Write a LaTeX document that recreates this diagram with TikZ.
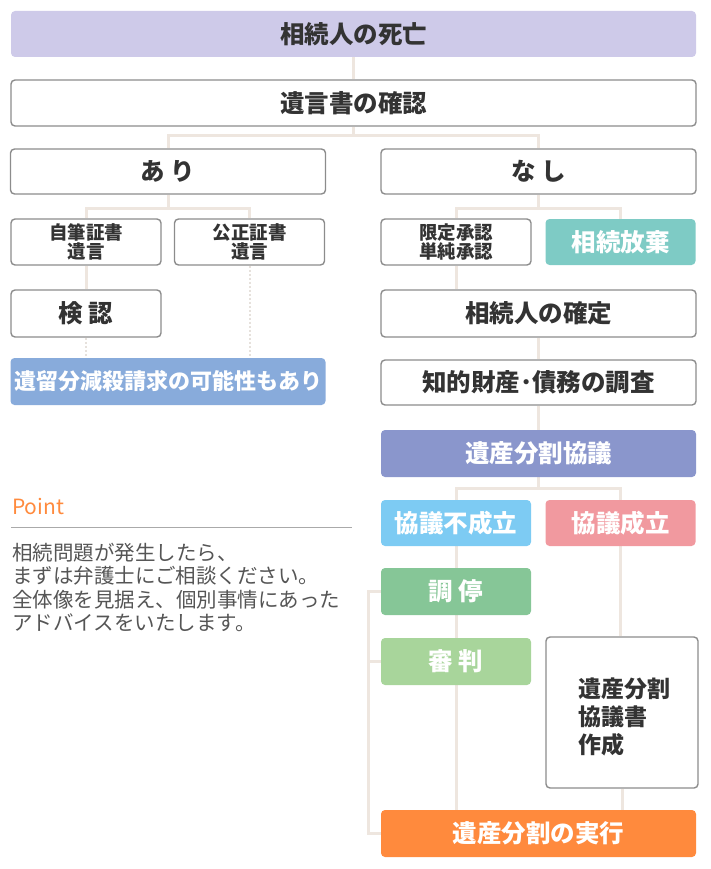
\documentclass[tikz,border=0pt]{standalone}
\usepackage{fontspec}
\setmainfont{Noto Sans CJK JP}
\usetikzlibrary{backgrounds}
\definecolor{bordergray}{HTML}{8C8C8C}
\definecolor{textdark}{HTML}{333333}
\definecolor{connc}{HTML}{EEE6DF}
\definecolor{dotc}{HTML}{E6E1DC}
\definecolor{clav}{HTML}{CECAE9}
\definecolor{cblue}{HTML}{88ABDB}
\definecolor{cteal}{HTML}{7ECBC5}
\definecolor{cviolet}{HTML}{8A96CC}
\definecolor{csky}{HTML}{7DCBF3}
\definecolor{cpink}{HTML}{F1999F}
\definecolor{cgreen}{HTML}{86C697}
\definecolor{clgreen}{HTML}{A8D59B}
\definecolor{corange}{HTML}{FF8A3D}
\definecolor{ptext}{HTML}{555555}
\definecolor{pline}{HTML}{AAAAAA}
\begin{document}
\begin{tikzpicture}[x=1pt,y=-1pt,
  base/.style={rounded corners=4pt, inner sep=0pt, align=center},
  bx/.style={base, draw=bordergray, line width=1.4pt, fill=white, text=textdark,
    font=\fontsize{24.5}{27}\selectfont\bfseries},
  sbx/.style={bx, font=\fontsize{18.5}{19.5}\selectfont\bfseries},
  cbx/.style={base, text=white, font=\fontsize{24.5}{27}\selectfont\bfseries},
  wide/.style={minimum width=315pt},
  full/.style={minimum width=685pt},
  half/.style={minimum width=150pt},
  tall/.style={minimum height=46pt},
  conn/.style={draw=connc, line width=3pt},
  dotconn/.style={draw=dotc, line width=2pt, dotted},
]
\useasboundingbox (0,0) rectangle (710,869);

% top
\node[cbx, full, tall, fill=clav, text=textdark] (death) at (353.5,34) {相続人の死亡};
\node[bx, full, tall] (will) at (353.5,103) {遺言書の確認};

% left branch
\node[bx, wide, minimum height=45pt] (ari) at (168,171.5) {あ り};
\node[sbx, half, tall] (jihitsu) at (86,242) {自筆証書\\遺言};
\node[sbx, half, tall] (kousei) at (249.5,242) {公正証書\\遺言};
\node[bx, half, minimum height=47pt] (kennin) at (86,313.5) {検 認};
\node[cbx, wide, minimum height=47pt, fill=cblue, font=\fontsize{22}{24}\selectfont\bfseries] (iryu) at (168,381.5) {遺留分減殺請求の可能性もあり};

% right branch
\node[bx, wide, minimum height=45pt] (nashi) at (538.5,171.5) {な し};
\node[sbx, half, tall] (gentei) at (456,242) {限定承認\\単純承認};
\node[cbx, half, tall, fill=cteal] (houki) at (620.5,242) {相続放棄};
\node[bx, wide, minimum height=47pt] (kakutei) at (538.5,313.5) {相続人の確定};
\node[bx, wide, minimum height=45pt] (chousa) at (538.5,382.5) {知的財産･債務の調査};
\node[cbx, wide, minimum height=47pt, fill=cviolet] (kyogi) at (538.5,453.5) {遺産分割協議};
\node[cbx, half, tall, fill=csky] (fusei) at (456,523) {協議不成立};
\node[cbx, half, tall, fill=cpink] (seiritsu) at (620.5,523) {協議成立};
\node[cbx, half, minimum height=47pt, fill=cgreen] (chotei) at (456,591.5) {調 停};
\node[cbx, half, minimum height=47pt, fill=clgreen] (shinpan) at (456,661.5) {審 判};
\node[bx, minimum width=152pt, minimum height=151pt] (kyogisho) at (622,712.5) {};
\node[inner sep=0pt, align=left, text=textdark, font=\fontsize{23}{28}\selectfont\bfseries] (kyogishotxt) at (624,717) {遺産分割\\協議書\\作成\hphantom{分割}};
\node[cbx, wide, minimum height=47pt, fill=corange] (jikkou) at (538.5,833.5) {遺産分割の実行};
\coordinate (brk) at (368,0);

% Point section
\node[anchor=base west, inner sep=0pt, text=corange, font=\fontsize{21}{24}\selectfont] (point) at (12,514) {Point};
\coordinate (pl1) at (11,527);
\coordinate (pl2) at (352,527);
\node[anchor=north west, inner sep=0pt, align=left, text=ptext, font=\fontsize{20.5}{23.3}\selectfont] (ptxt) at (12,543) {相続問題が発生したら、\\まずは弁護士にご相談ください。\\全体像を見据え、個別事情にあった\\アドバイスをいたします。};

\begin{scope}[on background layer]
  \draw[draw=pline, line width=1pt] (pl1) -- (pl2);
  \draw[conn] (death.south) -- (will.north);
  \draw[conn] (will.south) -- ++(0,9) coordinate (b1);
  \draw[conn] (ari.north) |- (b1) -| (nashi.north);
  \draw[conn] (ari.south) -- ++(0,14) coordinate (b2);
  \draw[conn] (jihitsu.north) |- (b2) -| (kousei.north);
  \draw[conn] (jihitsu.south) -- (kennin.north);
  \draw[dotconn] (kennin.south) -- (kennin.south |- iryu.north);
  \draw[dotconn] (kousei.south) -- (kousei.south |- iryu.north);
  \draw[conn] (nashi.south) -- ++(0,14) coordinate (b3);
  \draw[conn] (gentei.north) |- (b3) -| (houki.north);
  \draw[conn] (gentei.south) -- (gentei.south |- kakutei.north);
  \draw[conn] (kakutei.south) -- (chousa.north);
  \draw[conn] (chousa.south) -- (kyogi.north);
  \draw[conn] (kyogi.south) -- ++(0,11) coordinate (b4);
  \draw[conn] (fusei.north) |- (b4) -| (seiritsu.north);
  \draw[conn] (fusei.south) -- (fusei.south |- jikkou.north);
  \draw[conn] (seiritsu.south) -- (seiritsu.south |- kyogisho.north);
  \draw[conn] (kyogisho.south) -- (kyogisho.south |- jikkou.north);
  \draw[conn] (chotei.west) -| (brk |- jikkou.west) -- (jikkou.west);
  \draw[conn] (shinpan.west) -- (brk |- shinpan.west);
\end{scope}
\end{tikzpicture}
\end{document}
